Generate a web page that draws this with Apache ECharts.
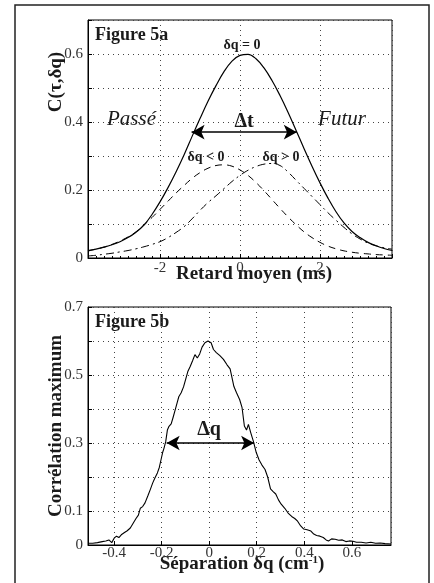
<!DOCTYPE html>
<html>
<head>
<meta charset="utf-8">
<script src="https://cdn.jsdelivr.net/npm/echarts@6/dist/echarts.min.js"></script>
<style>
html,body{margin:0;padding:0;background:#fff;}
#c{width:434px;height:583px;}
</style>
</head>
<body>
<div id="c"></div>
<script>
// ---------- Figure 5a data ----------
const tauX = [-3.8,-3.6,-3.4,-3.2,-3.0,-2.8,-2.6,-2.4,-2.2,-2.0,-1.8,-1.6,-1.4,-1.2,-1.0,-0.8,-0.6,-0.4,-0.2,0.0,
              0.2,0.4,0.6,0.8,1.0,1.2,1.4,1.6,1.8,2.0,2.2,2.4,2.6,2.8,3.0,3.2,3.4,3.6,3.8];
const cZero = [0.021,0.026,0.032,0.039,0.048,0.060,0.076,0.097,0.128,0.165,0.207,0.253,0.303,0.357,0.410,0.461,0.507,0.548,0.579,0.596,
               0.599,0.586,0.559,0.522,0.478,0.429,0.376,0.322,0.270,0.221,0.176,0.136,0.103,0.078,0.060,0.046,0.036,0.028,0.022];
const cNeg  = [0.022,0.026,0.032,0.040,0.050,0.062,0.077,0.097,0.119,0.143,0.167,0.191,0.213,0.234,0.251,0.264,0.272,0.274,0.270,0.259,
               0.243,0.222,0.198,0.172,0.146,0.121,0.098,0.077,0.060,0.046,0.035,0.027,0.021,0.017,0.014,0.012,0.010,0.009,0.008];
const cPos  = [0.006,0.008,0.011,0.014,0.018,0.022,0.027,0.033,0.040,0.048,0.060,0.075,0.092,0.115,0.140,0.163,0.183,0.204,0.225,0.243,
               0.258,0.269,0.276,0.278,0.272,0.253,0.229,0.205,0.181,0.157,0.133,0.111,0.090,0.071,0.056,0.044,0.036,0.030,0.026];
const tauTicks = [-2, 0, 2];
const cTicks = [0, 0.2, 0.4, 0.6];

// ---------- Figure 5b data ----------
const dqX = [-0.510,-0.490,-0.470,-0.450,-0.435,-0.422,-0.410,-0.400,-0.390,-0.380,-0.370,-0.358,-0.345,-0.332,-0.320,-0.308,-0.298,-0.290,-0.280,-0.270,
             -0.258,-0.248,-0.238,-0.228,-0.218,-0.210,-0.203,-0.196,-0.190,-0.183,-0.176,-0.170,-0.160,-0.152,-0.144,-0.135,-0.128,-0.118,-0.108,-0.100,
             -0.090,-0.080,-0.070,-0.060,-0.050,-0.040,-0.030,-0.018,-0.005,
             0.008,0.018,0.030,0.045,0.060,0.075,0.088,0.096,0.104,0.115,0.128,0.138,0.148,0.157,0.165,0.175,0.186,0.198,0.210,0.222,
             0.235,0.246,0.258,0.268,0.280,0.292,0.303,0.318,0.332,0.347,0.360,0.372,0.385,0.398,0.412,0.428,0.440,0.452,0.466,0.480,
             0.492,0.502,0.515,0.530,0.545,0.560,0.575,0.590,0.605,0.620,0.640,0.660,0.680,0.700,0.720,0.740,0.765];
const corrMax = [0.005,0.005,0.007,0.010,0.012,0.015,0.007,0.020,0.026,0.022,0.030,0.036,0.042,0.050,0.064,0.078,0.088,0.108,0.113,0.124,
                 0.145,0.163,0.182,0.198,0.212,0.228,0.250,0.272,0.285,0.304,0.338,0.348,0.356,0.375,0.395,0.418,0.436,0.448,0.465,0.485,
                 0.510,0.525,0.542,0.560,0.550,0.562,0.582,0.595,0.600,
                 0.595,0.575,0.566,0.557,0.546,0.530,0.518,0.514,0.466,0.448,0.428,0.405,0.350,0.338,0.355,0.330,0.305,0.272,0.250,0.235,
                 0.222,0.200,0.165,0.158,0.150,0.132,0.120,0.108,0.094,0.084,0.078,0.070,0.056,0.047,0.045,0.041,0.032,0.028,0.026,0.022,
                 0.015,0.012,0.018,0.017,0.014,0.015,0.010,0.012,0.011,0.008,0.008,0.006,0.008,0.005,0.006,0.004,0.003];
const dqTicks = [-0.4, -0.2, 0, 0.2, 0.4, 0.6];
const corrTicks = [0, 0.1, 0.3, 0.5, 0.7];

// arrows (annotation positions in data units)
const dtArrow = [[-1.21, 0.37], [1.42, 0.37]];
const dqArrow = [[-0.179, 0.30], [0.189, 0.30]];

const zip = (xs, ys) => xs.map((x, i) => [x, ys[i]]);
const FONT = '"Liberation Serif", "Times New Roman", serif';
const TXT = '#1a1a1a';

function inList(v, list) { return list.some(t => Math.abs(t - v) < 1e-6); }
function fmt(v) { return Math.abs(v) < 1e-9 ? '0' : (Math.round(v * 10) / 10).toString(); }

const splitLine = { show: true, lineStyle: { color: '#444', width: 1, type: [1, 4] } };
const tickLabel = (list, margin) => ({
  fontFamily: FONT, fontSize: 15, color: '#333', margin: margin,
  formatter: v => inList(v, list) ? fmt(v) : ''
});
const axisLine = { show: true, onZero: false, lineStyle: { color: '#000', width: 1 } };
const axisTick = { show: true, inside: true, length: 4, lineStyle: { color: '#000' } };

const chart = echarts.init(document.getElementById('c'), null, { renderer: 'canvas' });

const option = {
  animation: false,
  backgroundColor: '#fff',
  grid: [
    { left: 88, top: 20, width: 304, height: 238, show: true, borderColor: '#000', borderWidth: 1, containLabel: false },
    { left: 88, top: 307, width: 303, height: 238, show: true, borderColor: '#000', borderWidth: 1, containLabel: false }
  ],
  xAxis: [
    { type: 'value', gridIndex: 0, min: -3.8, max: 3.8, splitNumber: 5,
      axisLine: axisLine, axisTick: axisTick,
      minorTick: { show: true, splitNumber: 10, length: 2, lineStyle: { color: '#000' } },
      axisLabel: Object.assign(tickLabel(tauTicks, 3), { showMinLabel: false, showMaxLabel: false }),
      splitLine: splitLine },
    { type: 'value', gridIndex: 1, min: -0.51, max: 0.765, splitNumber: 6,
      axisLine: axisLine, axisTick: axisTick,
      axisLabel: Object.assign(tickLabel(dqTicks, 1), { showMinLabel: false, showMaxLabel: false }),
      splitLine: splitLine }
  ],
  yAxis: [
    { type: 'value', gridIndex: 0, min: 0, max: 0.7, interval: 0.1,
      axisLine: axisLine, axisTick: axisTick,
      axisLabel: tickLabel(cTicks, 5),
      splitLine: splitLine },
    { type: 'value', gridIndex: 1, min: 0, max: 0.7, interval: 0.1,
      axisLine: axisLine, axisTick: axisTick,
      axisLabel: tickLabel(corrTicks, 5),
      splitLine: splitLine }
  ],
  series: [
    { name: 'δq = 0', type: 'line', xAxisIndex: 0, yAxisIndex: 0, data: zip(tauX, cZero), smooth: 0.4,
      showSymbol: false, symbol: 'none', lineStyle: { color: '#000', width: 1.2, type: 'solid' },
      markLine: { silent: true, symbol: ['arrow', 'arrow'], symbolSize: [11, 13],
        lineStyle: { color: '#000', width: 1.6, type: 'solid' }, label: { show: false },
        data: [[{ coord: dtArrow[0] }, { coord: dtArrow[1] }]] } },
    { name: 'δq < 0', type: 'line', xAxisIndex: 0, yAxisIndex: 0, data: zip(tauX, cNeg), smooth: 0.4,
      showSymbol: false, symbol: 'none', lineStyle: { color: '#000', width: 1, type: [7, 5] } },
    { name: 'δq > 0', type: 'line', xAxisIndex: 0, yAxisIndex: 0, data: zip(tauX, cPos), smooth: 0.4,
      showSymbol: false, symbol: 'none', lineStyle: { color: '#000', width: 1, type: [8, 4, 2, 4] } },
    { name: 'corr', type: 'line', xAxisIndex: 1, yAxisIndex: 1, data: zip(dqX, corrMax),
      showSymbol: false, symbol: 'none', lineStyle: { color: '#000', width: 1.1 },
      markLine: { silent: true, symbol: ['arrow', 'arrow'], symbolSize: [11, 13],
        lineStyle: { color: '#000', width: 1.6, type: 'solid' }, label: { show: false },
        data: [[{ coord: dqArrow[0] }, { coord: dqArrow[1] }]] } }
  ],
  graphic: [
    { type: 'rect', shape: { x: 15, y: 5, width: 414, height: 600 }, style: { fill: 'none', stroke: '#222', lineWidth: 1.5 }, silent: true },
    // Figure 5a texts
    { type: 'text', x: 95, y: 35, style: { text: 'Figure 5a', font: 'bold 18px ' + FONT, fill: TXT, align: 'left', verticalAlign: 'middle' } },
    { type: 'text', x: 242, y: 45, style: { text: 'δq = 0', font: 'bold 14px ' + FONT, fill: TXT, align: 'center', verticalAlign: 'middle' } },
    { type: 'text', x: 107, y: 119, style: { text: 'Passé', font: 'italic 21px ' + FONT, fill: TXT, align: 'left', verticalAlign: 'middle' } },
    { type: 'text', x: 342, y: 119, style: { text: 'Futur', font: 'italic 21px ' + FONT, fill: TXT, align: 'center', verticalAlign: 'middle' } },
    { type: 'text', x: 244, y: 122, style: { text: 'Δt', font: 'bold 20px ' + FONT, fill: TXT, align: 'center', verticalAlign: 'middle' } },
    { type: 'text', x: 206, y: 157, style: { text: 'δq < 0', font: 'bold 14px ' + FONT, fill: TXT, align: 'center', verticalAlign: 'middle' } },
    { type: 'text', x: 281, y: 157, style: { text: 'δq > 0', font: 'bold 14px ' + FONT, fill: TXT, align: 'center', verticalAlign: 'middle' } },
    { type: 'text', x: 254, y: 274, style: { text: 'Retard moyen (ms)', font: 'bold 19px ' + FONT, fill: TXT, align: 'center', verticalAlign: 'middle' } },
    { type: 'text', x: 56, y: 82, rotation: Math.PI / 2, style: { text: 'C(τ,δq)', font: 'bold 19px ' + FONT, fill: TXT, align: 'center', verticalAlign: 'middle' } },
    // Figure 5b texts
    { type: 'text', x: 95, y: 322, style: { text: 'Figure 5b', font: 'bold 18px ' + FONT, fill: TXT, align: 'left', verticalAlign: 'middle' } },
    { type: 'text', x: 209, y: 430, style: { text: 'Δq', font: 'bold 20px ' + FONT, fill: TXT, align: 'center', verticalAlign: 'middle' } },
    { type: 'text', x: 242, y: 564, style: { text: 'Séparation δq (cm{sup|-1})', font: 'bold 19px ' + FONT, fill: TXT, align: 'center', verticalAlign: 'middle',
        rich: { sup: { font: 'bold 11px ' + FONT, fill: TXT, verticalAlign: 'top', padding: [0, 0, 6, 0] } } } },
    { type: 'text', x: 56, y: 426, rotation: Math.PI / 2, style: { text: 'Corrélation maximum', font: 'bold 19px ' + FONT, fill: TXT, align: 'center', verticalAlign: 'middle' } }
  ]
};
chart.setOption(option);
</script>
</body>
</html>
